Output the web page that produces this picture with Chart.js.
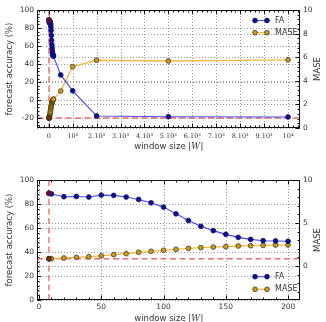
<!DOCTYPE html>
<html><head><meta charset="utf-8">
<script src="https://cdn.jsdelivr.net/npm/chart.js@4.4.1/dist/chart.umd.min.js"></script>
<style>
html,body{margin:0;padding:0;background:#fff;width:326px;height:322px;overflow:hidden}
.box{position:absolute;left:0;width:326px;height:161px}
</style>
</head><body>
<div class="box" style="top:0"><canvas id="c1" width="326" height="161"></canvas></div>
<div class="box" style="top:161px"><canvas id="c2" width="326" height="161"></canvas></div>
<script>
// ---------- data ----------
const windowsSmall = [8,10,20,30,40,50,60,70,80,90,100,110,120,130,140,150,160,170,180,190,200];
const faSmall      = [88.9,88.4,86.1,86.3,85.8,87.4,87.2,85.8,83.8,81.0,77.4,71.8,66.2,61.4,57.8,54.7,52.2,50.5,49.4,49.2,48.9];
const maseSmall    = [0.85,0.85,0.93,1.01,1.08,1.19,1.32,1.43,1.60,1.71,1.83,1.94,2.05,2.13,2.20,2.25,2.33,2.36,2.40,2.44,2.44];
const windowsLarge = [500,1000,2000,5000,10000];
const faLarge      = [28.0,10.4,-17.5,-18.3,-18.6];
const maseLarge    = [3.13,5.20,5.74,5.68,5.77];
const baselineWindow = 8;
const baselineMase = 0.85;
const topXTicks = [0,1000,2000,3000,4000,5000,6000,7000,8000,9000,10000];
const topXTickLabels = ['0','10\u00B3','2.10\u00B3','3.10\u00B3','4.10\u00B3','5.10\u00B3','6.10\u00B3','7.10\u00B3','8.10\u00B3','9.10\u00B3','10\u2074'];
const faTicks = [-20,0,20,40,60,80,100];
const faTicksBottom = [0,20,40,60,80,100];
const maseTicksTop = [0,2,4,6,8,10];
const maseTicksBottom = [0,5,10];
const bottomXTicks = [0,50,100,150,200];
const seriesLabels = ['FA','MASE'];
const xTitleParts = ['window size |','W','|'];
const yLeftTitle = 'forecast accuracy (%)';
const yRightTitle = 'MASE';

// ---------- styles ----------
const TXT = '#333';
const FA_LINE = '#4a4ae6', FA_PT = '#10107a';
const MA_LINE = '#f3b84a', MA_PT = '#c19a35', MA_PT_B = '#4f3d0c';
const HL_FA = '#5a1238', HL_MA = '#6b3414';

function pts(xs, ys){ return xs.map((x,i)=>({x:x,y:ys[i]})); }
function fixTicks(vals){ return function(s){ s.ticks = vals.map(v=>({value:v})); }; }
function line(ctx,x1,y1,x2,y2){ ctx.beginPath(); ctx.moveTo(x1,y1); ctx.lineTo(x2,y2); ctx.stroke(); }

const mplPlugin = {
  id:'mpl',
  beforeDatasetsDraw(chart, args, o){
    const ctx = chart.ctx, a = chart.chartArea;
    const sx = chart.scales.x, yl = chart.scales.yL, yr = chart.scales.yR;
    ctx.save();
    ctx.strokeStyle = '#999'; ctx.lineWidth = 1; ctx.setLineDash([1,2]);
    sx.ticks.forEach(t=>{ const p = Math.round(sx.getPixelForValue(t.value))+0.5; line(ctx,p,a.top,p,a.bottom); });
    yl.ticks.forEach(t=>{ const p = Math.round(yl.getPixelForValue(t.value))+0.5; line(ctx,a.left,p,a.right,p); });
    yr.ticks.forEach(t=>{ const p = Math.round(yr.getPixelForValue(t.value))+0.5; line(ctx,a.left,p,a.right,p); });
    ctx.strokeStyle = '#e87070'; ctx.lineWidth = 1.4; ctx.setLineDash([6,3.5]);
    const vx = sx.getPixelForValue(baselineWindow);
    line(ctx,vx,a.top,vx,a.bottom);
    const hy = yr.getPixelForValue(baselineMase);
    line(ctx,a.left,hy,a.right,hy);
    ctx.restore();
  },
  afterDraw(chart, args, o){
    const ctx = chart.ctx, a = chart.chartArea;
    const sx = chart.scales.x, yl = chart.scales.yL, yr = chart.scales.yR;
    ctx.save();
    ctx.strokeStyle = '#111'; ctx.lineWidth = 1; ctx.setLineDash([]);
    ctx.strokeRect(Math.round(a.left)+0.5, Math.round(a.top)+0.5, Math.round(a.right-a.left)-1, Math.round(a.bottom-a.top)-1);
    const L = Math.round(a.left)+0.5, R = Math.round(a.right)-0.5, T = Math.round(a.top)+0.5, B = Math.round(a.bottom)-0.5;
    function minor(scale, step){ const out=[]; let v = Math.ceil(scale.min/step)*step; for(; v<=scale.max+1e-9; v+=step) out.push(v); return out; }
    minor(sx, o.xMinor).forEach(v=>{ const p=Math.round(sx.getPixelForValue(v))+0.5; line(ctx,p,B,p,B-2); line(ctx,p,T,p,T+2); });
    sx.ticks.forEach(t=>{ const p=Math.round(sx.getPixelForValue(t.value))+0.5; line(ctx,p,B,p,B-4); line(ctx,p,T,p,T+4); });
    minor(yl, o.lMinor).forEach(v=>{ const p=Math.round(yl.getPixelForValue(v))+0.5; line(ctx,L,p,L+2,p); });
    yl.ticks.forEach(t=>{ const p=Math.round(yl.getPixelForValue(t.value))+0.5; line(ctx,L,p,L+4,p); });
    minor(yr, o.rMinor).forEach(v=>{ const p=Math.round(yr.getPixelForValue(v))+0.5; line(ctx,R,p,R-2,p); });
    yr.ticks.forEach(t=>{ const p=Math.round(yr.getPixelForValue(t.value))+0.5; line(ctx,R,p,R-4,p); });
    // x title with italic W
    ctx.fillStyle = TXT; ctx.textBaseline = 'middle'; ctx.textAlign = 'left';
    const fonts = [o.titleFont, o.titleItalic, o.titleFont];
    const widths = xTitleParts.map((s,i)=>{ ctx.font = fonts[i]; return ctx.measureText(s).width; });
    let x = (a.left+a.right)/2 - widths.reduce((p,c)=>p+c,0)/2;
    xTitleParts.forEach((s,i)=>{ ctx.font = fonts[i]; ctx.fillText(s, x, o.xTitleY); x += widths[i] + (i===1?0.6:0); });
    ctx.font = o.titleFont; ctx.textAlign = 'center';
    ctx.save(); ctx.translate(o.yLeftX, (a.top+a.bottom)/2); ctx.rotate(-Math.PI/2); ctx.fillText(yLeftTitle,0,0); ctx.restore();
    ctx.save(); ctx.translate(o.yRightX, (a.top+a.bottom)/2); ctx.rotate(-Math.PI/2); ctx.fillText(yRightTitle,0,0); ctx.restore();
    // legend
    const ds = chart.data.datasets;
    [0,1].forEach(i=>{
      const d = ds[i], y = o.legY + i*o.legDy;
      ctx.strokeStyle = d.borderColor; ctx.lineWidth = d.borderWidth; ctx.setLineDash([]);
      line(ctx, o.legX, y, o.legX+12, y);
      [o.legX, o.legX+12].forEach(px=>{
        ctx.beginPath(); ctx.arc(px,y,d.pointRadius,0,Math.PI*2);
        ctx.fillStyle = d.pointBackgroundColor; ctx.fill();
        ctx.lineWidth = d.pointBorderWidth; ctx.strokeStyle = d.pointBorderColor; ctx.stroke();
      });
      ctx.fillStyle = TXT; ctx.font = o.legFont; ctx.textAlign='left'; ctx.textBaseline='middle';
      ctx.fillText(d.label, o.legX+20, y);
    });
    ctx.restore();
  }
};

function datasets(xs, fa, mase){
  return [
    {label:seriesLabels[0], data:pts(xs,fa), yAxisID:'yL', borderColor:FA_LINE, borderWidth:1.1,
     pointRadius:2.4, pointBackgroundColor:FA_PT, pointBorderColor:FA_PT, pointBorderWidth:0.8, tension:0, order:2},
    {label:seriesLabels[1], data:pts(xs,mase), yAxisID:'yR', borderColor:MA_LINE, borderWidth:1.3,
     pointRadius:2.4, pointBackgroundColor:MA_PT, pointBorderColor:MA_PT_B, pointBorderWidth:0.8, tension:0, order:3},
    {label:'fa0', data:pts(xs.slice(0,1),fa.slice(0,1)), yAxisID:'yL', showLine:false,
     pointRadius:2.5, pointBackgroundColor:HL_FA, pointBorderColor:HL_FA, order:0},
    {label:'mase0', data:pts(xs.slice(0,1),mase.slice(0,1)), yAxisID:'yR', showLine:false,
     pointRadius:2.5, pointBackgroundColor:HL_MA, pointBorderColor:'#3a1a08', pointBorderWidth:0.8, order:1}
  ];
}

function axis(pos, min, max, ticks, fnt, pad, width, labels){
  const s = {type:'linear', position:pos, min:min, max:max,
    afterBuildTicks: fixTicks(ticks),
    grid:{display:false, drawTicks:false}, border:{display:false},
    ticks:{font:fnt, color:TXT, padding:pad, autoSkip:false, maxRotation:0,
      callback: labels ? ((v,i)=>labels[i]) : (v=>String(v))}};
  if (pos==='bottom') s.afterFit = sc=>{ sc.height = width; };
  else s.afterFit = sc=>{ sc.width = width; };
  return s;
}

const sans = {family:'DejaVu Sans', size:7.5};
const serif = {family:'DejaVu Serif', size:6.5};
Chart.defaults.animation = false;

new Chart(document.getElementById('c1'), {
  type:'line',
  data:{datasets: datasets(windowsSmall.concat(windowsLarge), faSmall.concat(faLarge), maseSmall.concat(maseLarge))},
  options:{
    responsive:false, animation:false, devicePixelRatio:1,
    layout:{padding:{top:10,left:0,right:0,bottom:0}},
    plugins:{legend:{display:false}, tooltip:{enabled:false},
      mpl:{xMinor:200, lMinor:4, rMinor:0.4, titleFont:'8.5px "DejaVu Sans"', titleItalic:'italic 8.5px "DejaVu Serif"',
           xTitleY:147, yLeftX:10, yRightX:318, legX:255, legY:20.5, legDy:12.2, legFont:'8px "DejaVu Sans"'}},
    scales:{
      x: axis('bottom', -491.6, 10499.6, topXTicks, serif, 4, 33, topXTickLabels),
      yL: axis('left', -30.8, 100, faTicks, sans, 3, 37),
      yR: axis('right', 0, 10, maseTicksTop, sans, 3, 26)
    }
  },
  plugins:[mplPlugin]
});

new Chart(document.getElementById('c2'), {
  type:'line',
  data:{datasets: datasets(windowsSmall, faSmall, maseSmall)},
  options:{
    responsive:false, animation:false, devicePixelRatio:1,
    layout:{padding:{top:19,left:0,right:0,bottom:0}},
    plugins:{legend:{display:false}, tooltip:{enabled:false},
      mpl:{xMinor:10, lMinor:4, rMinor:1, titleFont:'8.5px "DejaVu Sans"', titleItalic:'italic 8.5px "DejaVu Serif"',
           xTitleY:157.5, yLeftX:10, yRightX:318, legX:255, legY:115.7, legDy:12.6, legFont:'8px "DejaVu Sans"'}},
    scales:{
      x: axis('bottom', -1.6, 209.6, bottomXTicks, sans, 3, 22),
      yL: axis('left', 0, 100, faTicksBottom, sans, 3, 37),
      yR: axis('right', -3.95, 10, maseTicksBottom, sans, 3, 26)
    }
  },
  plugins:[mplPlugin]
});
</script>
</body></html>
